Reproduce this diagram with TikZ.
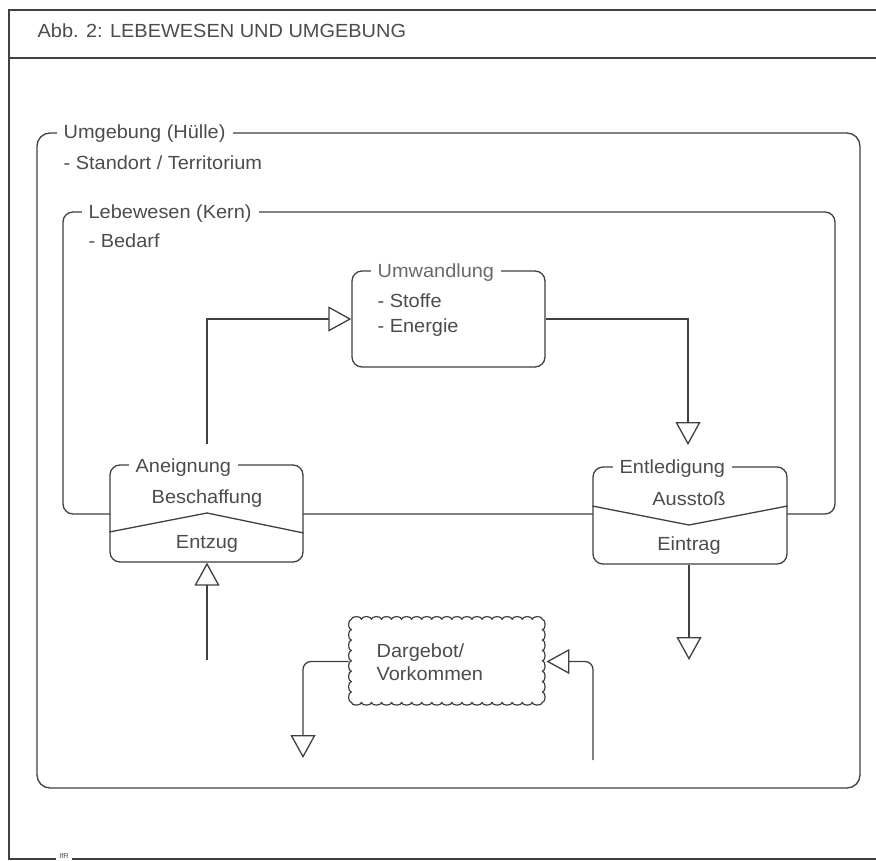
\documentclass[tikz,border=0pt]{standalone}
\usepackage{fontspec}
\setmainfont{Liberation Sans}[FakeStretch=1.05]
\usetikzlibrary{arrows.meta,calc}
\definecolor{ink}{HTML}{404040}
\definecolor{txt}{HTML}{4C4C4C}
\definecolor{pale}{HTML}{6A6A6A}
\begin{document}
\begin{tikzpicture}[x=1pt,y=-1pt,
  color=ink, line width=1.3pt,
  every node/.style={font=\fontsize{19}{23}\selectfont, text=txt, inner sep=0pt},
  box/.style={draw=ink, fill=white, rounded corners=10pt, inner sep=0pt},
  ttl/.style={fill=white, anchor=base west, inner xsep=7pt, inner ysep=3pt},
  lbl/.style={anchor=base west},
  mid/.style={anchor=base},
  flow/.style={-{Triangle[open,length=23pt,width=25pt]}}
]
\useasboundingbox (0,0) rectangle (876,861);

% sheet frame with header rule
\draw (885,10) -- (9,10) -- (9,859) -- (885,859);
\draw (9,58) -- (885,58);
\node[fill=white, inner xsep=3pt, inner ysep=1pt, font=\fontsize{7}{8}\selectfont] (ifr) at (64,856) {IfR};
\node[lbl] (head) at (37,38) {Abb. 2: LEBEWESEN UND UMGEBUNG};

% environment (outer shell)
\node[box, rounded corners=13pt, minimum width=823pt, minimum height=655pt] (env) at (448.5,460.5) {};
\node[ttl] (envt) at (56,139) {Umgebung (Hülle)};
\node[lbl] (envs) at (63,170) {- Standort / Territorium};

% organism (core)
\node[box, minimum width=772pt, minimum height=302pt] (org) at (449,363) {};
\node[ttl] (orgt) at (81,219) {Lebewesen (Kern)};
\node[lbl] (orgs) at (88,248) {- Bedarf};

% conversion
\node[box, minimum width=193pt, minimum height=96pt] (um) at (448.5,319) {};
\node[ttl, text=pale] (umt) at (370,277) {Umwandlung};
\node[lbl] (ums) at (377,308) {- Stoffe};
\node[lbl] (ume) at (377,332) {- Energie};

% acquisition
\node[box, minimum width=193pt, minimum height=97pt] (an) at (206.5,513.5) {};
\node[ttl] (ant) at (128,472) {Aneignung};
\draw ($(an.west)+(0,18.5)$) -- ($(an.center)+(0.5,-0.5)$) -- ($(an.east)+(0,19.5)$);
\node[mid] (anb) at (207,503) {Beschaffung};
\node[mid] (ane) at (207,548) {Entzug};

% disposal
\node[box, minimum width=194pt, minimum height=97pt] (en) at (690,515.5) {};
\node[ttl] (ent) at (612,473) {Entledigung};
\draw ($(en.west)+(0,-9.5)$) -- ($(en.center)+(-1,9.5)$) -- ($(en.east)+(0,-9.5)$);
\node[mid] (ena) at (689,505) {Ausstoß};
\node[mid] (ene) at (689,550) {Eintrag};

% supply (scalloped cloud)
\node[minimum width=191pt, minimum height=83pt] (cl) at (447.5,661.5) {};
\draw[line width=1.2pt, line join=round] (cl.north west)
  \foreach \k in {1,...,19} { arc[start angle=180, end angle=0, x radius=5.026pt, y radius=2.8pt] }
  \foreach \k in {1,...,8} { arc[start angle=90, end angle=-90, x radius=2.8pt, y radius=5.1875pt] }
  \foreach \k in {1,...,19} { arc[start angle=0, end angle=-180, x radius=5.026pt, y radius=2.8pt] }
  \foreach \k in {1,...,8} { arc[start angle=270, end angle=90, x radius=2.8pt, y radius=5.1875pt] }
  -- cycle;
\node[lbl] (cld) at (376,657) {Dargebot/};
\node[lbl] (clv) at (376,680) {Vorkommen};

% flows
\coordinate (a1) at (207,444);
\draw[flow] (a1) |- (um.west);
\coordinate (a2) at (688,445);
\draw[flow] (um.east) -| (a2);
\coordinate (a3) at (207,660);
\draw[flow] (a3) -- (a3 |- an.south);
\coordinate (a4) at (689,660);
\draw[flow] (a4 |- en.south) -- (a4);
\coordinate (a5) at (303,758);
\draw[flow, rounded corners=8pt] ([xshift=-2.8pt]cl.west) -| (a5);
\coordinate (a6) at (593,760);
\draw[flow, rounded corners=8pt] (a6) |- ([xshift=2.8pt]cl.east);
\end{tikzpicture}
\end{document}
